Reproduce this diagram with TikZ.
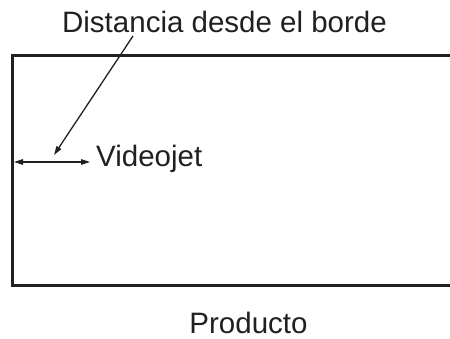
\documentclass[tikz,border=0pt]{standalone}
\usepackage{fontspec}
\setmainfont{Liberation Sans}
\usetikzlibrary{arrows.meta}
\definecolor{ink}{HTML}{231F20}
\begin{document}
\begin{tikzpicture}[x=1pt,y=-1pt,every node/.style={font=\fontsize{29.5}{34}\selectfont,text=ink,inner sep=0pt},
  tip/.style={-{Triangle[length=9pt,width=5.5pt]}}]
\useasboundingbox (0,0) rectangle (450,339);
\draw[ink,line width=3pt] (450,55.5)--(12.5,55.5)--(12.5,285.5)--(450,285.5);
\node[anchor=base] (title) at (224.5,33) {Distancia desde el borde};
\node[anchor=base west] (vj) at (96,167) {Videojet};
\node[anchor=base] (prod) at (248.5,333) {Producto};
\coordinate (edge) at (14,162);
\coordinate (end) at (90,162);
\coordinate (from) at (133,36);
\coordinate (to) at (54,155);
\draw[ink,line width=1.3pt,{Triangle[length=9pt,width=5.5pt]}-{Triangle[length=9pt,width=5.5pt]}] (edge)--(end);
\draw[ink,line width=1.3pt,tip] (from)--(to);
\end{tikzpicture}
\end{document}
